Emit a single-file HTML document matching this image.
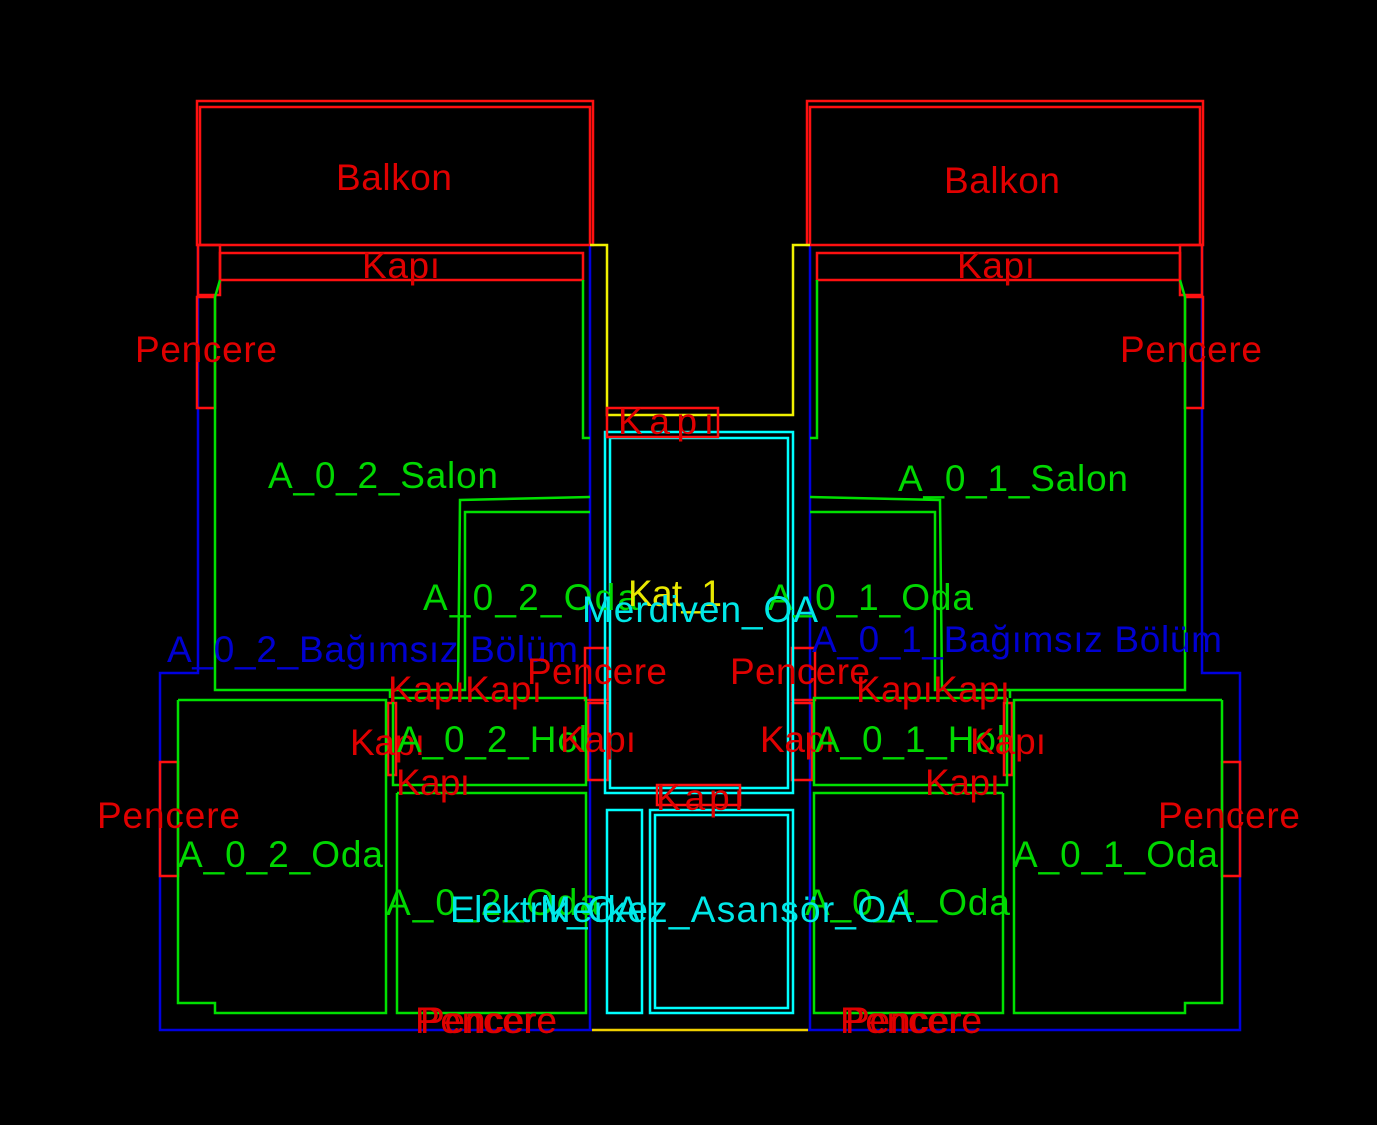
<!DOCTYPE html>
<html><head><meta charset="utf-8"><style>
html,body{margin:0;padding:0;background:#000;}
svg{display:block}
text{font-family:"Liberation Sans",sans-serif;font-size:37px;}
.r{fill:#e00000}.g{fill:#00d800}.b{fill:#0000d0}.c{fill:#00e8e8}.y{fill:#e8e800}
</style></head><body>
<svg width="1377" height="1125" viewBox="0 0 1377 1125" xmlns="http://www.w3.org/2000/svg">
<rect width="1377" height="1125" fill="#000"/>
<defs>
<g id="half" fill="none" stroke-width="2.5">
  <polyline stroke="#0000e0" points="198,245 198,673 160,673 160,1030 592,1030"/>
  <polyline stroke="#0000e0" points="590,245 590,1030"/>
  <rect x="197" y="101" width="396" height="144" stroke="#ff1010"/>
  <polyline stroke="#ff1010" points="200,245 200,107 590,107 590,245"/>
  <rect x="198" y="245" width="22" height="50" stroke="#ff1010"/>
  <rect x="220" y="253" width="363" height="27" stroke="#ff1010"/>
  <polyline stroke="#f0f000" points="590,245 607,245 607,415 700,415"/>
  <rect x="197" y="297" width="18" height="111" stroke="#ff1010"/>
  <rect x="160" y="762" width="18" height="114" stroke="#ff1010"/>
  <rect x="585" y="648" width="23" height="52" stroke="#ff1010"/>
  <rect x="588" y="703" width="20" height="77" stroke="#ff1010"/>
  <rect x="388" y="703" width="8" height="72" stroke="#ff1010"/>
  <polyline stroke="#00e000" points="220,280 215,297 215,690 390,690 390,698"/>
  <polyline stroke="#00e000" points="583,280 583,438 590,438"/>
  <polyline stroke="#00e000" points="590,497 460,500 458,690 390,690"/>
  <polyline stroke="#00e000" points="590,512 465,512 465,690 460,690"/>
  <polyline stroke="#00e000" points="178,700 386,700 386,1013 215,1013 215,1003 178,1003 178,700"/>
  <polyline stroke="#00e000" points="393,698 586,698 586,785 393,785 393,698"/>
  <polyline stroke="#00e000" points="397,793 586,793 586,1013 397,1013 397,793"/>
</g>
</defs>
<use href="#half"/>
<use href="#half" transform="translate(1400,0) scale(-1,1)"/>
<g fill="none" stroke-width="2.5">
  <rect x="605" y="432" width="188" height="361" stroke="#00ffff"/>
  <rect x="610" y="438" width="178" height="350" stroke="#00ffff"/>
  <rect x="607" y="810" width="35" height="203" stroke="#00ffff"/>
  <rect x="650" y="810" width="143" height="203" stroke="#00ffff"/>
  <rect x="655" y="815" width="133" height="193" stroke="#00ffff"/>
  <line x1="592" y1="1030" x2="808" y2="1030" stroke="#f0d000"/>
  <rect x="607" y="408" width="111" height="29" stroke="#ff1010"/>
  <rect x="657" y="785" width="83" height="20" stroke="#ff1010"/>
</g>
<text class="r" x="336" y="190" textLength="116">Balkon</text>
<text class="r" x="944" y="193" textLength="116">Balkon</text>
<text class="r" x="362" y="278" textLength="78">Kapı</text>
<text class="r" x="957" y="278" textLength="78">Kapı</text>
<text class="r" x="135" y="362" textLength="142">Pencere</text>
<text class="r" x="1120" y="362" textLength="142">Pencere</text>
<text class="g" x="268" y="488" textLength="230">A_0_2_Salon</text>
<text class="g" x="898" y="491" textLength="230">A_0_1_Salon</text>
<text class="r" x="618" y="434" textLength="96">Kapı</text>
<text class="g" x="423" y="610" textLength="215">A_0_2_Oda</text>
<text class="g" x="768" y="610" textLength="205">A_0_1_Oda</text>
<text class="y" x="628" y="606" textLength="94">Kat_1</text>
<text class="c" x="582" y="622" textLength="236">Merdiven_OA</text>
<text class="b" x="167" y="662" textLength="411">A_0_2_Bağımsız Bölüm</text>
<text class="b" x="812" y="652" textLength="410">A_0_1_Bağımsız Bölüm</text>
<text class="r" x="527" y="684" textLength="140">Pencere</text>
<text class="r" x="730" y="684" textLength="140">Pencere</text>
<text class="r" x="388" y="702" textLength="154">KapıKapı</text>
<text class="r" x="856" y="702" textLength="154">KapıKapı</text>
<text class="r" x="350" y="755" textLength="75">Kapı</text>
<text class="g" x="397" y="752" textLength="190">A_0_2_Hol</text>
<text class="r" x="560" y="752" textLength="76">Kapı</text>
<text class="r" x="760" y="752" textLength="75">Kapı</text>
<text class="g" x="815" y="752" textLength="190">A_0_1_Hol</text>
<text class="r" x="970" y="754" textLength="76">Kapı</text>
<text class="r" x="396" y="795" textLength="74">Kapı</text>
<text class="r" x="925" y="795" textLength="75">Kapı</text>
<text class="r" x="656" y="810" textLength="88">Kapı</text>
<text class="r" x="97" y="828" textLength="143">Pencere</text>
<text class="r" x="1158" y="828" textLength="142">Pencere</text>
<text class="g" x="178" y="867" textLength="205">A_0_2_Oda</text>
<text class="g" x="1013" y="867" textLength="205">A_0_1_Oda</text>
<text class="g" x="386" y="915" textLength="214">A_0_2_Oda</text>
<text class="g" x="805" y="915" textLength="205">A_0_1_Oda</text>
<text class="c" x="450" y="922" textLength="190">Elektrik_OA</text>
<text class="c" x="540" y="922" textLength="372">Merkez_Asansör_OA</text>
<text class="r" x="415" y="1033" textLength="142">Pencere</text>
<text class="r" x="420" y="1033" textLength="137">Pencere</text>
<text class="r" x="840" y="1033" textLength="142">Pencere</text>
<text class="r" x="845" y="1033" textLength="137">Pencere</text>
</svg>
</body></html>
